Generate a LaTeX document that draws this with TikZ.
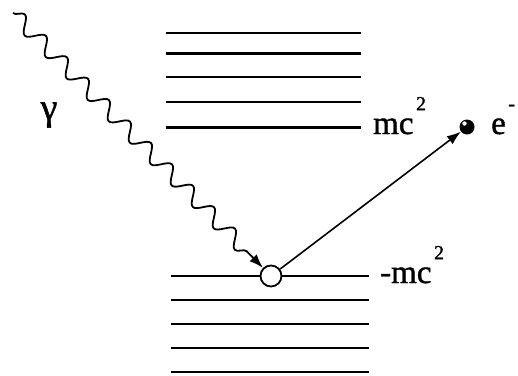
\documentclass[tikz,border=0pt]{standalone}
\usepackage{fontspec}
\setmainfont{Liberation Serif}
\newfontfamily\thickserif[FakeBold=1.2]{Liberation Serif}
\usetikzlibrary{decorations.pathmorphing,arrows.meta,calc}
\newcommand{\supsc}[1]{\hspace{2.5pt}\raisebox{0.72em}{\fontsize{20}{20}\selectfont #1}}
\begin{document}
\begin{tikzpicture}[x=1pt,y=-1pt,
  level/.style={line width=2.4pt},
  lbl/.style={inner sep=0pt,font=\thickserif\fontsize{33}{33}\selectfont},
  photon/.style={line width=1.8pt,decorate,
     decoration={snake,amplitude=7.5pt,segment length=30pt,post length=14pt}},
  tipA/.style={-{Latex[length=14pt,width=10pt]}}]
\useasboundingbox (0,0) rectangle (518,375);
% upper continuum
\foreach \y in {32.7,53.3,76.7,101.7,127.3}
  \draw[level] (166,\y) -- (361,\y);
% lower continuum
\foreach \y in {276,300,324,347.7,372}
  \draw[level] (171,\y) -- (369,\y);
% hole and electron
\node[circle,draw,fill=white,line width=1.8pt,minimum size=21pt,inner sep=0pt] (hole) at (271,276) {};
\node[circle,fill=black,minimum size=15pt,inner sep=0pt] (el) at (467,127) {};
\fill[white] (464.5,123.5) circle (2.2pt);
% photon
\coordinate (gs) at (13,13);
\draw[photon,tipA] (gs) -- (hole);
% electron path
\draw[line width=1.6pt,tipA] (hole) -- (el);
% labels
\node[lbl,anchor=base west] (mcp) at (373,134) {mc\supsc{2}};
\node[lbl,anchor=base west] (mcm) at (380,283) {-mc\supsc{2}};
\node[lbl,anchor=base west] (elab) at (491,134) {e\supsc{-}};
\node[lbl,font=\thickserif\fontsize{38}{38}\selectfont] (gam) at (49,115) {γ};
\end{tikzpicture}
\end{document}
